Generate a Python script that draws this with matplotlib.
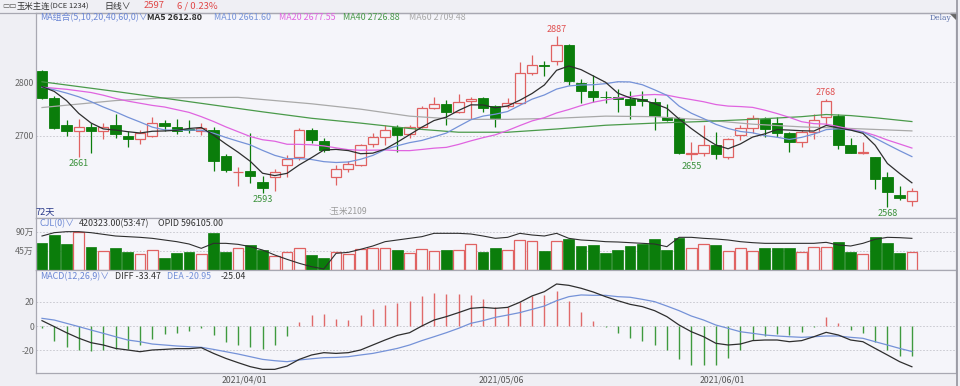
import matplotlib
matplotlib.use('Agg')
import matplotlib.pyplot as plt
import numpy as np
from matplotlib.lines import Line2D
from matplotlib.patches import Polygon

plt.rcParams['font.family'] = ['Noto Sans CJK SC', 'DejaVu Sans']

# ---------------- data ----------------
opens = [2821, 2771, 2720, 2709, 2717, 2710, 2720, 2700, 2694, 2700,
         2725, 2717, 2713, 2710, 2712, 2663, 2632, 2634, 2615, 2623,
         2646, 2660, 2711, 2691, 2623, 2638, 2646, 2686, 2699, 2717,
         2704, 2717, 2752, 2760, 2744, 2765, 2770, 2755, 2756, 2762,
         2817, 2832, 2839, 2870, 2799, 2783, 2773, 2772, 2768, 2768,
         2764, 2735, 2733, 2666, 2669, 2683, 2661, 2702, 2714, 2731,
         2725, 2705, 2689, 2708, 2735, 2737, 2683, 2669, 2661, 2624,
         2590, 2579]
highs = [2823, 2775, 2730, 2731, 2725, 2725, 2741, 2709, 2712, 2735,
         2729, 2731, 2730, 2724, 2717, 2666, 2643, 2705, 2625, 2638,
         2665, 2714, 2714, 2696, 2646, 2654, 2686, 2705, 2720, 2720,
         2720, 2756, 2773, 2767, 2779, 2773, 2773, 2758, 2770, 2838,
         2851, 2839, 2887, 2871, 2807, 2814, 2783, 2787, 2783, 2783,
         2770, 2760, 2735, 2689, 2720, 2708, 2696, 2720, 2739, 2735,
         2735, 2708, 2711, 2741, 2768, 2741, 2696, 2689, 2661, 2632,
         2606, 2604]
lows = [2768, 2713, 2700, 2661, 2669, 2694, 2696, 2679, 2686, 2699,
        2710, 2704, 2705, 2702, 2635, 2632, 2606, 2612, 2593, 2598,
        2624, 2655, 2687, 2670, 2609, 2632, 2645, 2679, 2683, 2671,
        2696, 2714, 2750, 2720, 2743, 2731, 2745, 2717, 2752, 2760,
        2814, 2811, 2832, 2795, 2761, 2764, 2761, 2745, 2731, 2755,
        2711, 2727, 2666, 2655, 2663, 2658, 2657, 2693, 2705, 2698,
        2698, 2671, 2679, 2694, 2720, 2675, 2668, 2666, 2601, 2568,
        2581, 2570]
closes = [2771, 2715, 2709, 2717, 2709, 2716, 2704, 2694, 2705, 2725,
          2719, 2710, 2711, 2714, 2654, 2637, 2633, 2626, 2603, 2632,
          2658, 2712, 2693, 2674, 2638, 2647, 2683, 2698, 2712, 2702,
          2717, 2753, 2760, 2744, 2764, 2769, 2752, 2733, 2762, 2817,
          2832, 2831, 2870, 2802, 2783, 2773, 2772, 2769, 2758, 2765,
          2737, 2729, 2669, 2669, 2683, 2666, 2694, 2714, 2733, 2713,
          2706, 2689, 2708, 2730, 2765, 2683, 2669, 2670, 2619, 2595,
          2584, 2597]

ma5 = [2792, 2783, 2766, 2742, 2724.2, 2713.2, 2711, 2708, 2705.6, 2708.8,
       2709.4, 2710.6, 2714, 2715.8, 2701.6, 2685.2, 2669.8, 2652.8, 2630.6, 2626.2,
       2630.4, 2646.2, 2659.6, 2673.8, 2675, 2672.8, 2667, 2668, 2675.6, 2688.4,
       2702.4, 2716.4, 2728.8, 2735.2, 2747.6, 2758, 2757.8, 2752.4, 2756, 2766.6,
       2779.2, 2795, 2822.4, 2830.4, 2823.6, 2811.8, 2800, 2779.8, 2771, 2767.4,
       2760.2, 2751.6, 2731.6, 2713.8, 2697.4, 2683.2, 2676.2, 2685.2, 2698, 2704,
       2712, 2711, 2709.8, 2709.2, 2719.6, 2715, 2711, 2705, 2682.8, 2648.8,
       2630.2, 2612.8]
ma10 = [2791, 2786, 2780, 2773, 2764, 2754, 2745, 2735, 2726, 2716.5,
        2711.3, 2710.8, 2711, 2710.7, 2705.2, 2697.3, 2690.2, 2683.4, 2673.2, 2663.9,
        2657.8, 2658, 2656.2, 2652.2, 2650.6, 2651.6, 2656.6, 2663.8, 2674.7, 2681.7,
        2687.6, 2691.7, 2698.4, 2705.4, 2718, 2730.2, 2737.1, 2740.6, 2745.6, 2757.1,
        2768.6, 2776.4, 2787.4, 2793.2, 2795.1, 2795.5, 2797.5, 2801.1, 2800.7, 2795.5,
        2786, 2775.8, 2755.7, 2742.4, 2732.4, 2721.7, 2713.9, 2708.4, 2705.9, 2700.7,
        2697.6, 2693.6, 2697.5, 2703.6, 2711.8, 2713.5, 2711, 2707.4, 2696, 2684.2,
        2672.6, 2661.6]
ma20 = [2791, 2789, 2787, 2784, 2781, 2776, 2770, 2765, 2761, 2757,
        2754, 2749, 2744, 2736, 2727, 2717, 2708, 2699, 2693, 2690.2,
        2684.6, 2684.4, 2683.6, 2681.5, 2677.9, 2674.5, 2673.4, 2673.6, 2674, 2672.8,
        2672.7, 2674.9, 2677.3, 2678.8, 2684.3, 2690.9, 2696.9, 2702.2, 2710.2, 2719.4,
        2728.1, 2734.1, 2742.9, 2749.3, 2756.6, 2762.9, 2767.3, 2770.9, 2773.2, 2776.3,
        2777.3, 2776.1, 2771.6, 2767.8, 2763.8, 2758.6, 2755.7, 2754.8, 2753.3, 2748.1,
        2741.8, 2734.7, 2726.6, 2723, 2722.1, 2717.6, 2712.5, 2707.9, 2701, 2692.5,
        2685.1, 2677.55]
ma40_idx = [0, 6, 12, 18, 22, 26, 30, 34, 38, 42, 46, 50, 54, 58, 62, 64, 66, 68, 71]
ma40 = [2801, 2783, 2764, 2745, 2733, 2724, 2714, 2707, 2707, 2713, 2720, 2724,
        2727, 2731, 2736, 2740, 2738, 2734, 2726.88]
ma60_idx = [0, 6, 10, 16, 22, 26, 30, 34, 38, 42, 46, 50, 54, 58, 62, 66, 71]
ma60 = [2753, 2766, 2771, 2772, 2760, 2750, 2737, 2731, 2731, 2733, 2737, 2736,
        2730, 2722, 2717, 2714, 2709.48]

volume = [63, 82, 61.5, 89, 53.7, 44, 52, 42.6, 36, 47,
          28, 39.5, 41, 36, 87, 42, 51, 59, 47, 31.6,
          41, 52, 35.5, 28.4, 42, 38, 50, 52, 52, 47,
          39.5, 49, 44, 46, 47, 60, 42, 50.5, 47, 71,
          69, 44, 69, 73, 55, 57.6, 39.5, 47, 55, 60,
          72.6, 47, 75.7, 52, 60, 57.6, 45, 50.5, 44, 50.5,
          50.5, 52, 42.6, 53.7, 53.7, 64.7, 42, 36, 78.5, 63,
          39.5, 42.03]
opi = [60.66, 62.16, 62.61, 62.61, 62.16, 61.41, 60.66, 60.36, 60.06, 59.61,
       58.86, 58.11, 57.06, 55.11, 57.36, 57.36, 56.91, 55.86, 54.36, 52.11,
       50.16, 48.36, 46.86, 45.81, 52.86, 53.31, 54.66, 56.16, 58.11, 58.86,
       59.61, 60.36, 61.86, 61.86, 61.86, 61.56, 60.66, 59.61, 60.06, 61.86,
       61.11, 60.66, 61.86, 59.61, 58.86, 58.56, 58.11, 57.96, 57.66, 57.36,
       57.06, 55.86, 60.06, 60.06, 59.61, 59.31, 58.86, 58.11, 57.66, 57.36,
       57.36, 57.36, 57.36, 57.36, 57.81, 56.61, 56.16, 57.36, 59.16, 60.06,
       59.91, 59.61]

macd_hist = [-2, -12, -17.5, -19.7, -20.3, -19.7, -19.2, -18.9, -15.9, -10.4,
             -6.8, -6, -4.1, -1.6, -7.7, -13.2, -15.3, -17, -19.2, -15.3,
             -8.2, 3.3, 8.8, 9.9, 6, 4.9, 9.3, 13.7, 17.5, 18.6,
             20.5, 24.9, 27.4, 26.3, 26.3, 25.8, 21.9, 15.3, 15.3, 20,
             24.7, 25.2, 29, 20.8, 11.5, 3.8, -1.1, -5.5, -9.6, -12,
             -15.9, -19.7, -27.4, -32, -32, -32, -26.6, -19.7, -11.5, -7.9,
             -6.8, -7.4, -4.7, -0.5, 7.7, 2.2, -3.3, -6, -12.9, -19.7,
             -24.7, -25.04]
diff = [4.4, -0.5, -5.5, -10, -13.7, -15.6, -18.4, -19.7, -21.1, -19.7,
        -19.2, -18.6, -18.6, -17.8, -22.5, -26.6, -30.1, -33.4, -35.6, -35.6,
        -32.9, -27.4, -23.8, -21.9, -22.5, -21.9, -19.7, -15.6, -11.5, -7.7,
        -5.5, 0, 4.9, 7.7, 11, 14.5, 15.3, 14.5, 15.3, 19.5,
        24.7, 28.2, 34.5, 33.4, 31, 27.9, 24.1, 20.8, 17.8, 15.9,
        12.6, 7.7, 0.8, -4.7, -8.8, -14.2, -15.6, -14.8, -12, -11.5,
        -11.5, -12.9, -12, -8.8, -5.2, -7.4, -11.5, -12.9, -18.4, -23.8,
        -29.3, -33.47]
dea = [6.3, 4.9, 2.2, -0.5, -3.3, -6, -8.8, -11.5, -12.9, -14.8,
       -15.6, -16.4, -17, -17.5, -19.2, -21.1, -23, -25.2, -27.4, -28.5,
       -29.3, -27.9, -26.9, -26, -25.8, -25.2, -23.8, -22.5, -20.5, -18.4,
       -15.6, -12, -8.8, -5.5, -1.9, 2.2, 4.4, 7.1, 9, 11,
       13.7, 16.4, 20.8, 24.1, 25.5, 25.2, 25.2, 24.1, 23.6, 21.9,
       20, 16.4, 12.6, 8.2, 4.9, 0.8, -1.9, -4.7, -6, -7.4,
       -8.2, -8.8, -9.3, -8.8, -8.2, -8.2, -9.3, -10.1, -12.9, -15.6,
       -18.4, -20.95]

high_marks = [42, 64]
low_marks = [3, 18, 53, 69]
date_idx = [17, 38, 56]
date_labels = ['2021/04/01', '2021/05/06', '2021/06/01']

# ---------------- style ----------------
W, H = 960, 386
FIGBG = '#efeff4'
BG = '#f5f5fa'
GREEN = '#0b7d0b'
RED = '#e06262'
C_MA5, C_MA10, C_MA20, C_MA40, C_MA60 = '#2e2e2e', '#7592d8', '#e064e0', '#4a9a4a', '#a9a9a9'
SPINE = '#a8a8b2'
GRID = '#c4c4cc'
TXT = '#333333'
TICK = '#666666'

fig = plt.figure(figsize=(W / 100, H / 100), dpi=100, facecolor=FIGBG)


def rect(x0, y0, x1, y1):
    return [x0 / W, 1 - y1 / H, (x1 - x0) / W, (y1 - y0) / H]


def T(x, y, s, color=TXT, size=6.6, **kw):
    fig.text(x / W, 1 - y / H, s, color=color, fontsize=size, ha=kw.pop('ha', 'left'),
             va='center', **kw)


ax1 = fig.add_axes(rect(36, 12.7, 956, 218))
ax2 = fig.add_axes(rect(36, 218, 956, 270), sharex=ax1)
ax3 = fig.add_axes(rect(36, 270, 956, 373), sharex=ax1)

for ax in (ax1, ax2, ax3):
    ax.set_facecolor(BG)
    for s in ax.spines.values():
        s.set_color(SPINE)
        s.set_linewidth(0.9)
    ax.tick_params(length=0, labelsize=6.3, colors=TICK, pad=1.5)
    ax.grid(axis='y', color=GRID, lw=0.6, ls=(0, (2, 2)))
    ax.set_axisbelow(True)

n = len(closes)
x = np.arange(n)
o = np.array(opens, float)
c = np.array(closes, float)
h = np.array(highs, float)
l = np.array(lows, float)
up = c >= o
cols = np.where(up, RED, GREEN)

# candles
ax1.vlines(x, l, h, colors=cols, lw=0.9, zorder=2)
blo = np.minimum(o, c)
bh = np.maximum(np.abs(c - o), 1.0)
ax1.bar(x[~up], bh[~up], bottom=blo[~up], width=0.84, color=GREEN, edgecolor=GREEN,
        lw=0.6, zorder=3)
ax1.bar(x[up], bh[up], bottom=blo[up], width=0.84, facecolor=BG, edgecolor=RED,
        lw=0.9, zorder=3)

# moving averages
ax1.plot(ma60_idx, ma60, color=C_MA60, lw=0.9, zorder=4)
ax1.plot(ma40_idx, ma40, color=C_MA40, lw=0.9, zorder=4)
ax1.plot(x, ma20, color=C_MA20, lw=0.9, zorder=4)
ax1.plot(x, ma10, color=C_MA10, lw=0.9, zorder=4)
ax1.plot(x, ma5, color=C_MA5, lw=0.9, zorder=5)

for i in high_marks:
    ax1.annotate(f'{highs[i]:d}', (i, highs[i]), xytext=(0, 1.5), textcoords='offset points',
                 ha='center', va='bottom', fontsize=6.5, color='#e05050')
for i in low_marks:
    ax1.annotate(f'{lows[i]:d}', (i, lows[i]), xytext=(0, -1.2), textcoords='offset points',
                 ha='center', va='top', fontsize=6.5, color='#3a913a')

ax1.set_ylim(2547.2, 2929.7)
ax1.set_yticks([2700, 2800])
ax1.set_yticklabels(['2700', '2800'])
ax1.set_xlim(-0.49, 74.6)
ax1.tick_params(labelbottom=False)

# volume
vol = np.array(volume)
ax2.bar(x[~up], vol[~up], width=0.88, color=GREEN, edgecolor=GREEN, lw=0.5, zorder=3)
ax2.bar(x[up], vol[up], width=0.88, facecolor=BG, edgecolor=RED, lw=0.9, zorder=3)
ax2.set_ylim(-0.7, 122.4)
ax2.set_yticks([45, 90])
ax2.set_yticklabels(['45万', '90万'])
ax2.tick_params(labelbottom=False)
ax2b = ax2.twinx()
ax2b.plot(x, opi, color='#2e2e2e', lw=0.8, zorder=5)
ax2b.set_ylim(45.36, 68.76)
ax2b.set_yticks([])
for s in ax2b.spines.values():
    s.set_visible(False)

# macd
mh = np.array(macd_hist)
ax3.vlines(x, 0, mh, colors=np.where(mh >= 0, '#e06a6a', '#3f9a3f'), lw=1.0, zorder=3)
ax3.plot(x, dea, color=C_MA10, lw=0.9, zorder=4)
ax3.plot(x, diff, color=C_MA5, lw=0.9, zorder=5)
ax3.set_ylim(-38.6, 46.0)
ax3.set_yticks([-20, 0, 20])
ax3.set_yticklabels(['-20', '0', '20'])
ax3.set_xticks([i - 0.5 for i in date_idx])
ax3.set_xticklabels(date_labels)
ax3.tick_params(axis='x', labelsize=6.3, colors='#555555', pad=2)

# frame lines
fig.add_artist(Line2D([0, 956 / W], [1 - 12.7 / H, 1 - 12.7 / H], color=SPINE, lw=0.9))
fig.add_artist(Line2D([956.5 / W, 956.5 / W], [0, 1], color='#9a9aa4', lw=1.3))
fig.add_artist(Polygon([[950 / W, 1 - 12.7 / H], [956 / W, 1 - 12.7 / H], [956 / W, 1 - 19 / H]],
                       closed=True, color='#666666', transform=fig.transFigure))

# header texts
T(2, 6, '▭▭', '#555555', 5.5, family=['DejaVu Sans'])
T(17, 6, '玉米主连', TXT, 6.0)
T(50, 6.5, '(DCE 1234)', TXT, 5.5)
T(104, 6, '日线∨', TXT, 6.4)
T(144, 6, '2597', '#e04848', 6.8)
T(177, 6, '6 / 0.23%', '#e04848', 6.8)

T(40, 17.5, 'MA组合(5,10,20,40,60,0)∨', '#6a86d4', 6.4)
T(147, 17.5, 'MA5 2612.80', '#2e2e2e', 6.4, fontweight='bold')
T(214, 17.5, 'MA10 2661.60', C_MA10, 6.4)
T(279, 17.5, 'MA20 2677.55', C_MA20, 6.4)
T(343, 17.5, 'MA40 2726.88', C_MA40, 6.4)
T(409, 17.5, 'MA60 2709.48', C_MA60, 6.4)
T(951, 18.5, 'Delay', '#5a70a8', 5.5, ha='right', family='DejaVu Serif')

T(36, 212, '72天', '#2a3a8a', 6.6)
T(328, 212, ':玉米2109', '#999999', 6.2)

T(40, 224, 'CJL(0)∨', '#6a86d4', 6.4)
T(79, 224, '420323.00(53:47)', TXT, 6.4)
T(158, 224, 'OPID 596105.00', TXT, 6.4)

T(40, 276.7, 'MACD(12,26,9)∨', '#6a86d4', 6.4)
T(115, 276.7, 'DIFF -33.47', TXT, 6.4)
T(167, 276.7, 'DEA -20.95', C_MA10, 6.4)
T(221, 276.7, '-25.04', TXT, 6.4)

fig.savefig('out.png', dpi=100, facecolor=FIGBG)
